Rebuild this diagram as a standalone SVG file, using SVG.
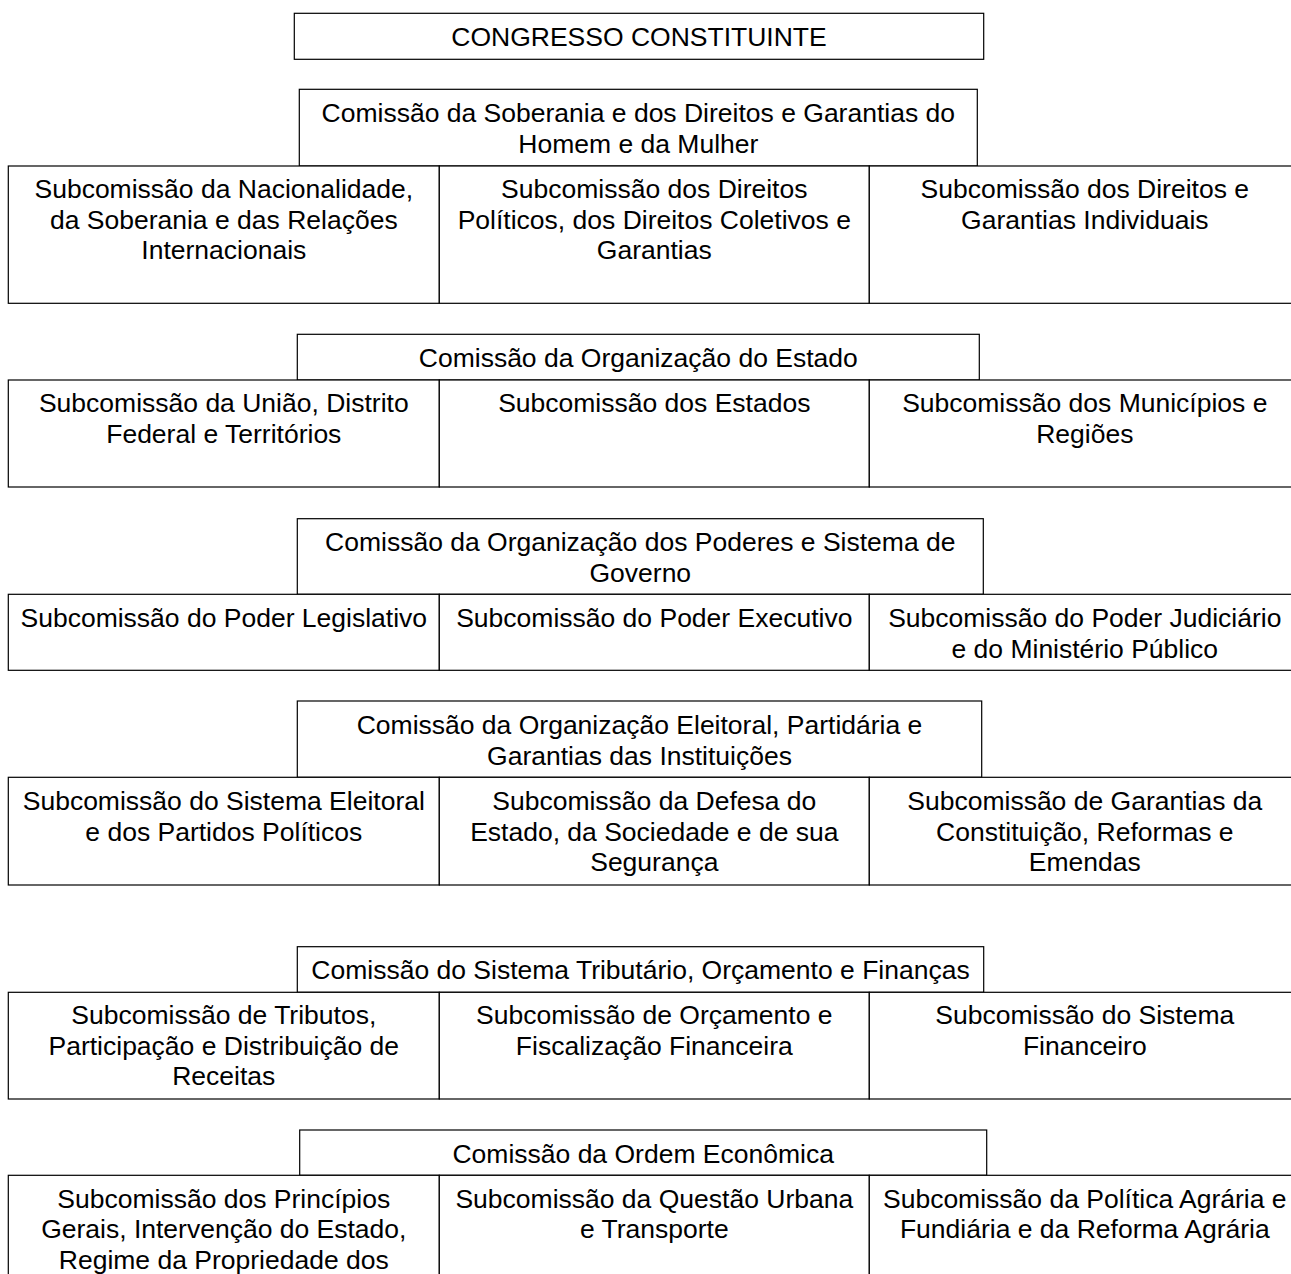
<svg xmlns="http://www.w3.org/2000/svg" width="1291" height="1274" viewBox="0 0 1291 1274">
<style>
rect{fill:#fff;stroke:#000;stroke-width:1.2}
text{font-family:"Liberation Sans",Arial,sans-serif;font-size:26.5px;fill:#000;text-anchor:middle}
</style>
<rect x="0" y="0" width="1291" height="1274" style="stroke:none"/>
<g id="congresso">
<rect x="294.3" y="13.3" width="689.4" height="46"/>
<text x="639" y="46.3">CONGRESSO CONSTITUINTE</text>
</g>

<g id="c1">
<rect x="299.3" y="89.3" width="678" height="76.7"/>
<text x="638.3" y="122.3"><tspan x="638.3">Comissão da Soberania e dos Direitos e Garantias do</tspan><tspan x="638.3" dy="30.7">Homem e da Mulher</tspan></text>
</g>
<g id="c1s1">
<rect x="8.3" y="166" width="431" height="137.3"/>
<text y="198"><tspan x="223.8">Subcomissão da Nacionalidade,</tspan><tspan x="223.8" dy="30.7">da Soberania e das Relações</tspan><tspan x="223.8" dy="30.7">Internacionais</tspan></text>
</g>
<g id="c1s2">
<rect x="439.3" y="166" width="430" height="137.3"/>
<text y="198"><tspan x="654.3">Subcomissão dos Direitos</tspan><tspan x="654.3" dy="30.7">Políticos, dos Direitos Coletivos e</tspan><tspan x="654.3" dy="30.7">Garantias</tspan></text>
</g>
<g id="c1s3">
<rect x="869.3" y="166" width="431" height="137.3"/>
<text y="198"><tspan x="1084.8">Subcomissão dos Direitos e</tspan><tspan x="1084.8" dy="30.7">Garantias Individuais</tspan></text>
</g>

<g id="c2">
<rect x="297.3" y="334.3" width="682" height="45.7"/>
<text x="638.3" y="367">Comissão da Organização do Estado</text>
</g>
<g id="c2s1">
<rect x="8.3" y="380" width="431" height="107"/>
<text y="412"><tspan x="223.8">Subcomissão da União, Distrito</tspan><tspan x="223.8" dy="30.7">Federal e Territórios</tspan></text>
</g>
<g id="c2s2">
<rect x="439.3" y="380" width="430" height="107"/>
<text x="654.3" y="412">Subcomissão dos Estados</text>
</g>
<g id="c2s3">
<rect x="869.3" y="380" width="431" height="107"/>
<text y="412"><tspan x="1084.8">Subcomissão dos Municípios e</tspan><tspan x="1084.8" dy="30.7">Regiões</tspan></text>
</g>

<g id="c3">
<rect x="297.3" y="518.7" width="686" height="75.6"/>
<text y="551.3"><tspan x="640.3">Comissão da Organização dos Poderes e Sistema de</tspan><tspan x="640.3" dy="30.7">Governo</tspan></text>
</g>
<g id="c3s1">
<rect x="8.3" y="594.3" width="431" height="76"/>
<text x="223.8" y="627">Subcomissão do Poder Legislativo</text>
</g>
<g id="c3s2">
<rect x="439.3" y="594.3" width="430" height="76"/>
<text x="654.3" y="627">Subcomissão do Poder Executivo</text>
</g>
<g id="c3s3">
<rect x="869.3" y="594.3" width="431" height="76"/>
<text y="627"><tspan x="1084.8">Subcomissão do Poder Judiciário</tspan><tspan x="1084.8" dy="30.7">e do Ministério Público</tspan></text>
</g>

<g id="c4">
<rect x="297.3" y="701" width="684.4" height="76.3"/>
<text y="734"><tspan x="639.5">Comissão da Organização Eleitoral, Partidária e</tspan><tspan x="639.5" dy="30.7">Garantias das Instituições</tspan></text>
</g>
<g id="c4s1">
<rect x="8.3" y="777.3" width="431" height="107.7"/>
<text y="810"><tspan x="223.8">Subcomissão do Sistema Eleitoral</tspan><tspan x="223.8" dy="30.7">e dos Partidos Políticos</tspan></text>
</g>
<g id="c4s2">
<rect x="439.3" y="777.3" width="430" height="107.7"/>
<text y="810"><tspan x="654.3">Subcomissão da Defesa do</tspan><tspan x="654.3" dy="30.7">Estado, da Sociedade e de sua</tspan><tspan x="654.3" dy="30.7">Segurança</tspan></text>
</g>
<g id="c4s3">
<rect x="869.3" y="777.3" width="431" height="107.7"/>
<text y="810"><tspan x="1084.8">Subcomissão de Garantias da</tspan><tspan x="1084.8" dy="30.7">Constituição, Reformas e</tspan><tspan x="1084.8" dy="30.7">Emendas</tspan></text>
</g>

<g id="c5">
<rect x="297.3" y="946.7" width="686.4" height="45.6"/>
<text x="640.5" y="979">Comissão do Sistema Tributário, Orçamento e Finanças</text>
</g>
<g id="c5s1">
<rect x="8.3" y="992.3" width="431" height="106.7"/>
<text y="1024"><tspan x="223.8">Subcomissão de Tributos,</tspan><tspan x="223.8" dy="30.7">Participação e Distribuição de</tspan><tspan x="223.8" dy="30.7">Receitas</tspan></text>
</g>
<g id="c5s2">
<rect x="439.3" y="992.3" width="430" height="106.7"/>
<text y="1024"><tspan x="654.3">Subcomissão de Orçamento e</tspan><tspan x="654.3" dy="30.7">Fiscalização Financeira</tspan></text>
</g>
<g id="c5s3">
<rect x="869.3" y="992.3" width="431" height="106.7"/>
<text y="1024"><tspan x="1084.8">Subcomissão do Sistema</tspan><tspan x="1084.8" dy="30.7">Financeiro</tspan></text>
</g>

<g id="c6">
<rect x="299.7" y="1130" width="687" height="45.3"/>
<text x="643.2" y="1162.5">Comissão da Ordem Econômica</text>
</g>
<g id="c6s1">
<rect x="8.3" y="1175.3" width="431" height="140"/>
<text y="1207.5"><tspan x="223.8">Subcomissão dos Princípios</tspan><tspan x="223.8" dy="30.7">Gerais, Intervenção do Estado,</tspan><tspan x="223.8" dy="30.7">Regime da Propriedade dos</tspan></text>
</g>
<g id="c6s2">
<rect x="439.3" y="1175.3" width="430" height="140"/>
<text y="1207.5"><tspan x="654.3">Subcomissão da Questão Urbana</tspan><tspan x="654.3" dy="30.7">e Transporte</tspan></text>
</g>
<g id="c6s3">
<rect x="869.3" y="1175.3" width="431" height="140"/>
<text y="1207.5"><tspan x="1084.8">Subcomissão da Política Agrária e</tspan><tspan x="1084.8" dy="30.7">Fundiária e da Reforma Agrária</tspan></text>
</g>
<g id="connectors"/>
</svg>
